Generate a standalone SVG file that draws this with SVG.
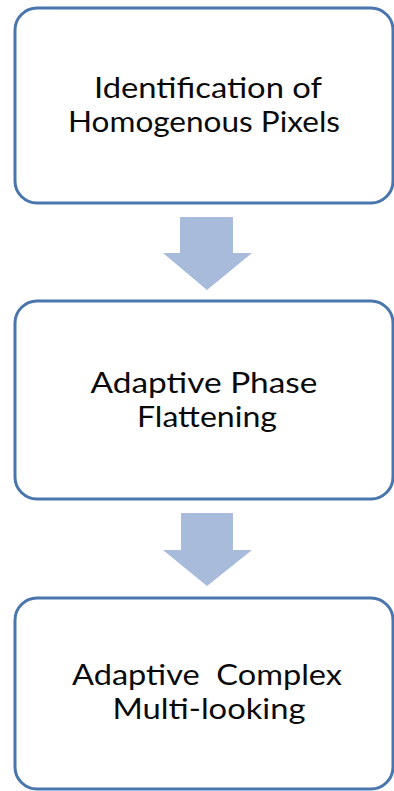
<svg xmlns="http://www.w3.org/2000/svg" width="394" height="791" viewBox="0 0 394 791">
  <style>
    .box { fill: #ffffff; stroke: #4a76ad; stroke-width: 3; }
    .arrow { fill: #a8bbdb; stroke: none; }
    .label { font-family: Lato, "Open Sans", sans-serif; font-size: 28px; fill: #0a0a0a; text-anchor: middle; }
  </style>
  <rect width="394" height="791" fill="#ffffff"/>

  <g id="connectors">
    <polygon class="arrow" points="180,217 233,217 233,253 252,253 207,290 163,253 180,253"/>
    <polygon class="arrow" points="181,513 233,513 233,550 252,550 207,586 163,550 181,550"/>
  </g>

  <g id="node-homogenous">
    <rect class="box" x="15" y="8" width="378" height="195" rx="22" ry="22"/>
    <text class="label" x="208" y="98" textLength="228" lengthAdjust="spacingAndGlyphs">Identification of</text>
    <text class="label" x="204" y="132" textLength="272" lengthAdjust="spacingAndGlyphs">Homogenous Pixels</text>
  </g>

  <g id="node-flattening">
    <rect class="box" x="15" y="301" width="378" height="198" rx="22" ry="22"/>
    <text class="label" x="204" y="393" textLength="227" lengthAdjust="spacingAndGlyphs">Adaptive Phase</text>
    <text class="label" x="207" y="427" textLength="140" lengthAdjust="spacingAndGlyphs">Flattening</text>
  </g>

  <g id="node-multilooking">
    <rect class="box" x="15" y="598" width="378" height="191" rx="22" ry="22"/>
    <text class="label" x="207" y="685" textLength="270" lengthAdjust="spacingAndGlyphs" xml:space="preserve">Adaptive  Complex</text>
    <text class="label" x="209" y="719" textLength="193" lengthAdjust="spacingAndGlyphs">Multi-looking</text>
  </g>
</svg>
